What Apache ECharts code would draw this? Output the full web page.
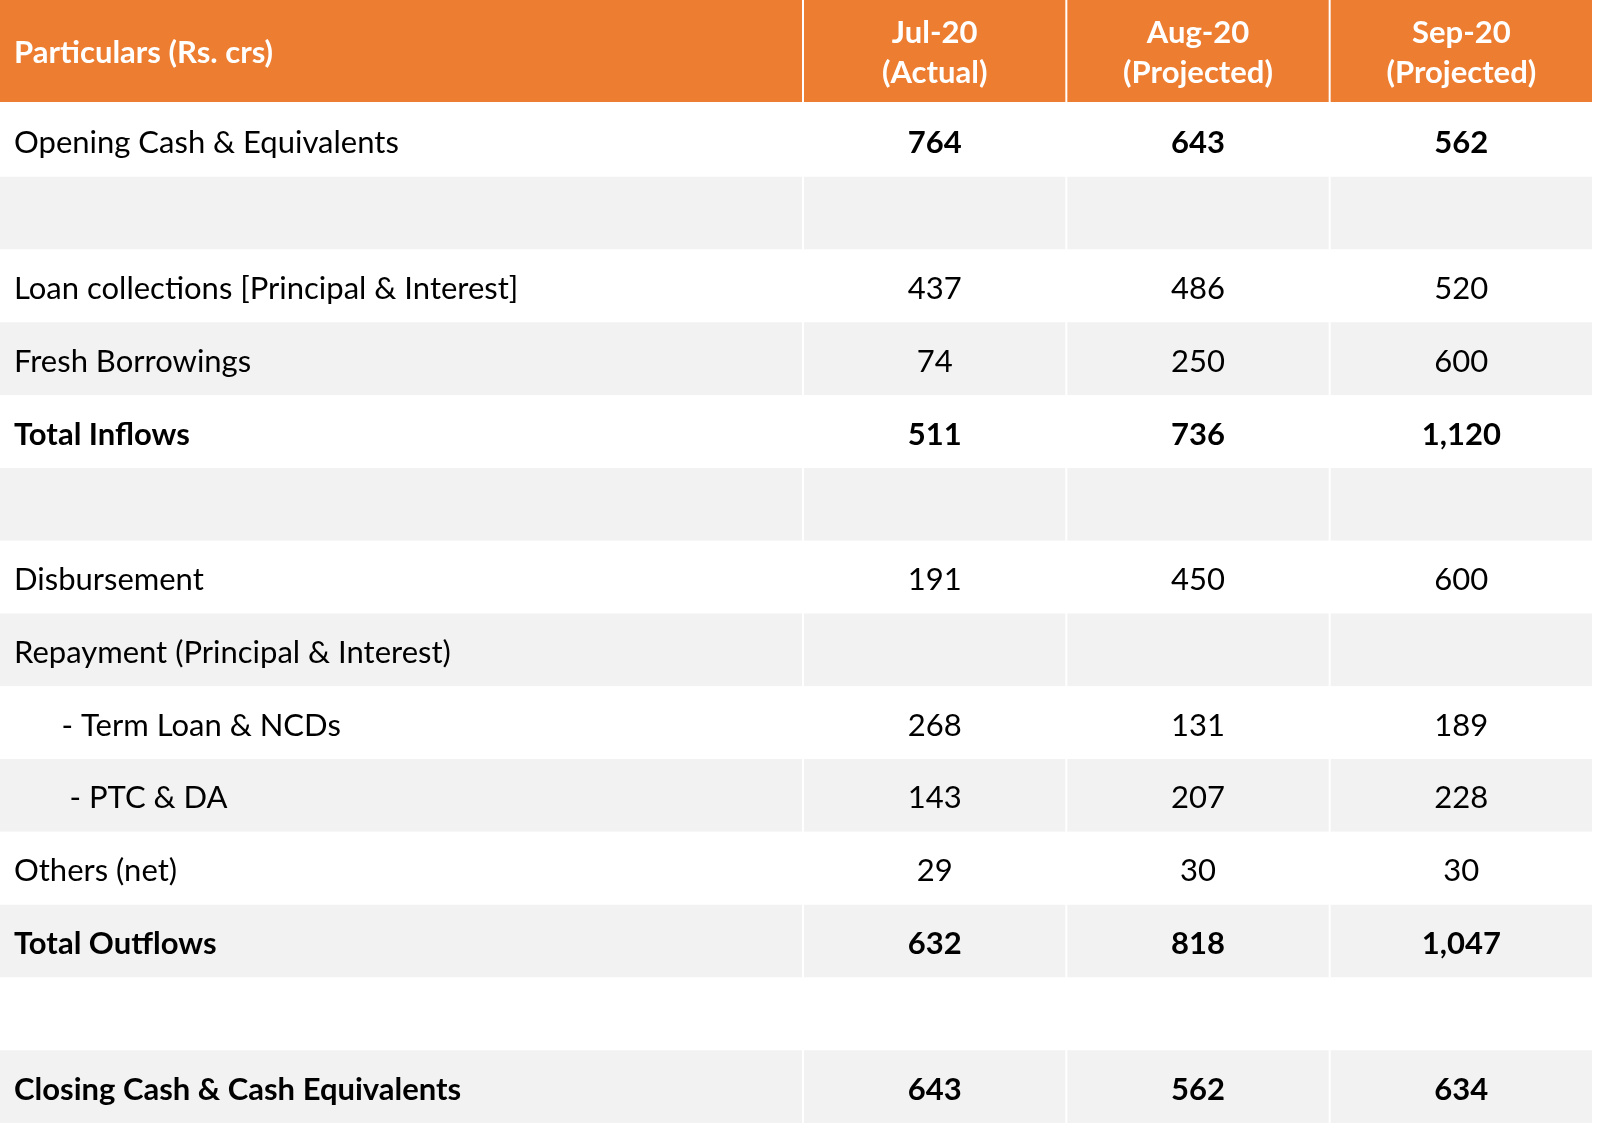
<!DOCTYPE html>
<html lang="en">
<head>
    <meta charset="utf-8" />
    <title>Cash flow table</title>
    <style>
        html, body { margin: 0; padding: 0; background: #fff; }
        #chart { width: 1601px; height: 1126px; }
    </style>
</head>
<body>
<div id="chart"></div>
<script src="https://cdn.jsdelivr.net/npm/echarts@6/dist/echarts.min.js"></script>
<script type="text/javascript">
    // table data
    var headerLabel = 'Particulars (Rs. crs)';
    var months = ['Jul-20\n(Actual)', 'Aug-20\n(Projected)', 'Sep-20\n(Projected)'];
    var rowLabels = [
        'Opening Cash & Equivalents',
        '',
        'Loan collections [Principal & Interest]',
        'Fresh Borrowings',
        'Total Inflows',
        '',
        'Disbursement',
        'Repayment (Principal & Interest)',
        '      - Term Loan & NCDs',
        '       - PTC & DA',
        'Others (net)',
        'Total Outflows',
        '',
        'Closing Cash & Cash Equivalents'
    ];
    var jul20 = [764, null, 437, 74, 511, null, 191, null, 268, 143, 29, 632, null, 643];
    var aug20 = [643, null, 486, 250, 736, null, 450, null, 131, 207, 30, 818, null, 562];
    var sep20 = [562, null, 520, 600, 1120, null, 600, null, 189, 228, 30, 1047, null, 634];
    var boldLabelRows = [4, 11, 13];
    var boldValueRows = [0, 4, 11, 13];

    var columns = [jul20, aug20, sep20];
    var rowIdx = rowLabels.map(function (l, i) { return i; });

    var ORANGE = '#ED7D31';
    var GREY = '#F2F2F2';
    var FONT = 'Lato';
    var SIZE = 31;
    var DY = 3; // text sits a little below the row middle

    function rowFill(r) { return r % 2 === 1 ? GREY : '#ffffff'; }

    // cell box from the category scales
    function box(api, gap) {
        var c = api.coord([api.value(0), api.value(1)]);
        var s = api.size([1, 1]);
        return { x: c[0] - s[0] / 2 + gap, y: c[1] - s[1] / 2, w: s[0] - gap, h: s[1], cx: c[0], cy: c[1] };
    }

    function headerLeft(params, api) {
        var b = box(api, 0);
        return {
            type: 'group',
            children: [
                { type: 'rect', shape: { x: b.x, y: b.y, width: b.w, height: b.h }, style: { fill: ORANGE } },
                { type: 'text', style: { text: headerLabel, x: b.x + 14, y: b.cy + 2, textAlign: 'left', textVerticalAlign: 'middle',
                    fill: '#fff', font: 'bold ' + SIZE + 'px ' + FONT } }
            ]
        };
    }

    function headerRight(params, api) {
        var b = box(api, 2);
        return {
            type: 'group',
            children: [
                { type: 'rect', shape: { x: b.x, y: b.y, width: b.w, height: b.h }, style: { fill: ORANGE } },
                { type: 'text', style: { text: months[api.value(0)], x: b.x + b.w / 2, y: b.cy + 2, textAlign: 'center', textVerticalAlign: 'middle',
                    fill: '#fff', font: 'bold ' + SIZE + 'px ' + FONT, lineHeight: 40 } }
            ]
        };
    }

    function bodyLeft(params, api) {
        var b = box(api, 0);
        var r = api.value(1);
        var bold = boldLabelRows.indexOf(r) >= 0;
        return {
            type: 'group',
            children: [
                { type: 'rect', shape: { x: b.x, y: b.y, width: b.w, height: b.h }, style: { fill: rowFill(r) } },
                { type: 'text', style: { text: rowLabels[r], x: b.x + 14, y: b.cy + DY, textAlign: 'left', textVerticalAlign: 'middle',
                    fill: '#000', font: (bold ? 'bold ' : '') + SIZE + 'px ' + FONT } }
            ]
        };
    }

    function bodyRight(params, api) {
        var b = box(api, 2);
        var c = api.value(0), r = api.value(1);
        var v = columns[c][r];
        var bold = boldValueRows.indexOf(r) >= 0;
        return {
            type: 'group',
            children: [
                { type: 'rect', shape: { x: b.x, y: b.y, width: b.w, height: b.h }, style: { fill: rowFill(r) } },
                { type: 'text', style: { text: v == null ? '' : v.toLocaleString('en-US'), x: b.x + b.w / 2, y: b.cy + DY,
                    textAlign: 'center', textVerticalAlign: 'middle',
                    fill: '#000', font: (bold ? 'bold ' : '') + SIZE + 'px ' + FONT } }
            ]
        };
    }

    var chart = echarts.init(document.getElementById('chart'));

    var hiddenCat = function (idx, data, inverse) {
        return { type: 'category', gridIndex: idx, data: data, show: false, inverse: !!inverse };
    };

    var rightCells = [];
    months.forEach(function (m, c) {
        rowIdx.forEach(function (r) { rightCells.push([c, r]); });
    });

    var option = {
        backgroundColor: '#fff',
        animation: false,
        grid: [
            { left: 0, top: 0, width: 802, height: 102 },     // header, particulars
            { left: 802, top: 0, width: 790, height: 102 },   // header, months
            { left: 0, top: 104, width: 802, height: 1019 },  // body, labels
            { left: 802, top: 104, width: 790, height: 1019 } // body, values
        ],
        xAxis: [
            hiddenCat(0, ['p']),
            hiddenCat(1, months),
            hiddenCat(2, ['p']),
            hiddenCat(3, months)
        ],
        yAxis: [
            hiddenCat(0, ['h']),
            hiddenCat(1, ['h']),
            hiddenCat(2, rowIdx, true),
            hiddenCat(3, rowIdx, true)
        ],
        series: [
            { type: 'custom', xAxisIndex: 0, yAxisIndex: 0, silent: true, clip: false, data: [[0, 0]], renderItem: headerLeft },
            { type: 'custom', xAxisIndex: 1, yAxisIndex: 1, silent: true, clip: false, data: [[0, 0], [1, 0], [2, 0]], renderItem: headerRight },
            { type: 'custom', xAxisIndex: 2, yAxisIndex: 2, silent: true, clip: false,
              data: rowIdx.map(function (r) { return [0, r]; }), renderItem: bodyLeft },
            { type: 'custom', xAxisIndex: 3, yAxisIndex: 3, silent: true, clip: false, data: rightCells, renderItem: bodyRight }
        ]
    };

    chart.setOption(option);
</script>
</body>
</html>
